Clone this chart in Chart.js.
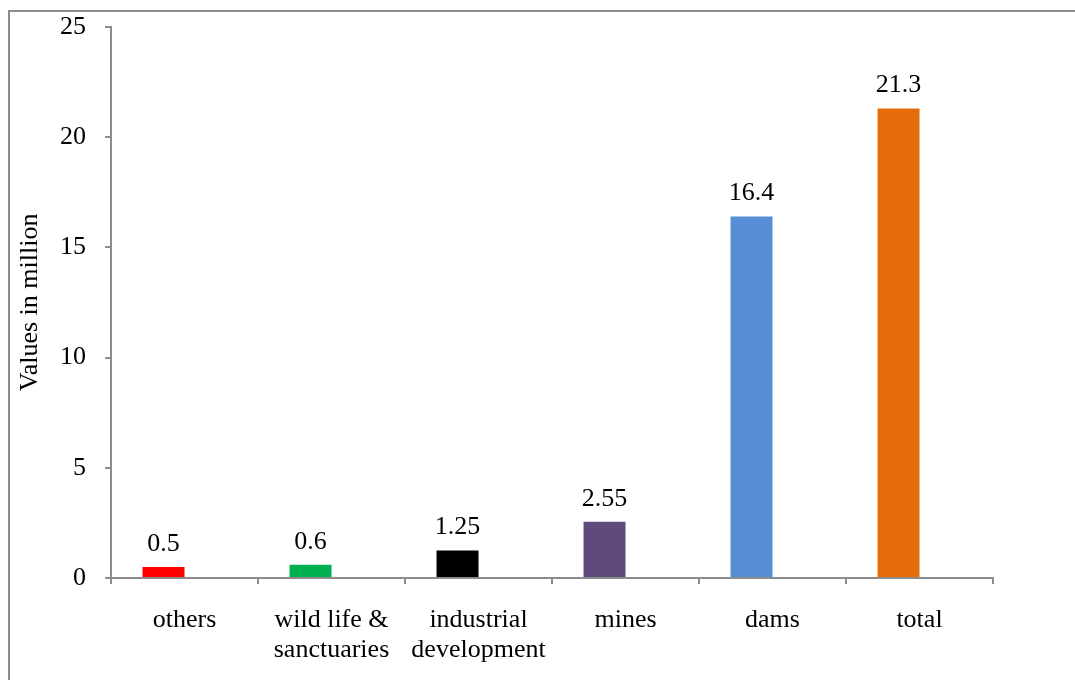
<!DOCTYPE html>
<html>
<head>
<meta charset="utf-8">
<script src="https://cdn.jsdelivr.net/npm/chart.js@4/dist/chart.umd.min.js"></script>
<style>
  html, body { margin: 0; padding: 0; background: #ffffff; }
  #wrap { position: relative; width: 1075px; height: 680px; }
</style>
</head>
<body>
<div id="wrap"><canvas id="c" width="1075" height="680"></canvas></div>
<script>
// Displaced population by cause (values in million)
const categories = ['others', ['wild life &', 'sanctuaries'], ['industrial', 'development'], 'mines', 'dams', 'total'];
const values = [0.5, 0.6, 1.25, 2.55, 16.4, 21.3];
// second slot of each cluster is left empty
const emptySeries = [null, null, null, null, null, null];
const valueLabels = ['0.5', '0.6', '1.25', '2.55', '16.4', '21.3'];
const barColors = ['#FF0000', '#00B050', '#000000', '#604A7B', '#558ED5', '#E46C0A'];
const yTicks = [0, 5, 10, 15, 20, 25];

const serif = '"Liberation Serif", "Times New Roman", serif';
const axisGray = '#8c8c8c';

// Outer frame around the chart
const framePlugin = {
  id: 'frame',
  beforeDraw(chart) {
    const ctx = chart.ctx;
    ctx.save();
    ctx.strokeStyle = axisGray;
    ctx.lineWidth = 2;
    ctx.strokeRect(9, 11, 1200, 800);
    ctx.restore();
  }
};

// Value labels above each bar
const valueLabelPlugin = {
  id: 'valueLabels',
  afterDatasetsDraw(chart) {
    const ctx = chart.ctx;
    const meta = chart.getDatasetMeta(0);
    ctx.save();
    ctx.font = '26px ' + serif;
    ctx.fillStyle = '#000000';
    ctx.textAlign = 'center';
    ctx.textBaseline = 'alphabetic';
    meta.data.forEach((bar, i) => {
      ctx.fillText(valueLabels[i], bar.x, bar.y - 16);
    });
    ctx.restore();
  }
};

new Chart(document.getElementById('c'), {
  type: 'bar',
  data: {
    labels: categories,
    datasets: [{
      data: values,
      backgroundColor: barColors,
      borderWidth: 0,
      categoryPercentage: 0.571,
      barPercentage: 1
    }, {
      data: emptySeries,
      backgroundColor: 'rgba(0,0,0,0)',
      borderWidth: 0,
      categoryPercentage: 0.571,
      barPercentage: 1
    }]
  },
  options: {
    responsive: false,
    animation: false,
    devicePixelRatio: 1,
    layout: { padding: { left: 9, top: 25, right: 82, bottom: 0 } },
    plugins: {
      legend: { display: false },
      tooltip: { enabled: false },
      title: { display: false }
    },
    scales: {
      x: {
        grid: {
          display: true,
          offset: true,
          drawOnChartArea: false,
          drawTicks: true,
          tickLength: 6,
          color: axisGray,
          lineWidth: 2
        },
        border: { display: true, color: axisGray, width: 2 },
        ticks: {
          color: '#000000',
          font: { family: serif, size: 26, lineHeight: 1.12 },
          padding: 22,
          maxRotation: 0,
          autoSkip: false
        },
        afterFit(scale) { scale.height = 102; }
      },
      y: {
        min: 0,
        max: 25,
        afterBuildTicks(scale) { scale.ticks = yTicks.map(v => ({ value: v })); },
        grid: {
          display: true,
          drawOnChartArea: false,
          drawTicks: true,
          tickLength: 6,
          color: axisGray,
          lineWidth: 2
        },
        border: { display: true, color: axisGray, width: 2 },
        ticks: {
          color: '#000000',
          font: { family: serif, size: 26, lineHeight: 0.6 },
          padding: 19
        },
        title: {
          display: true,
          text: 'Values in million',
          color: '#000000',
          font: { family: serif, size: 26, lineHeight: 1.2 },
          padding: { top: 6, bottom: 0 }
        },
        afterFit(scale) { scale.width = 102; }
      }
    }
  },
  plugins: [framePlugin, valueLabelPlugin]
});
</script>
</body>
</html>
